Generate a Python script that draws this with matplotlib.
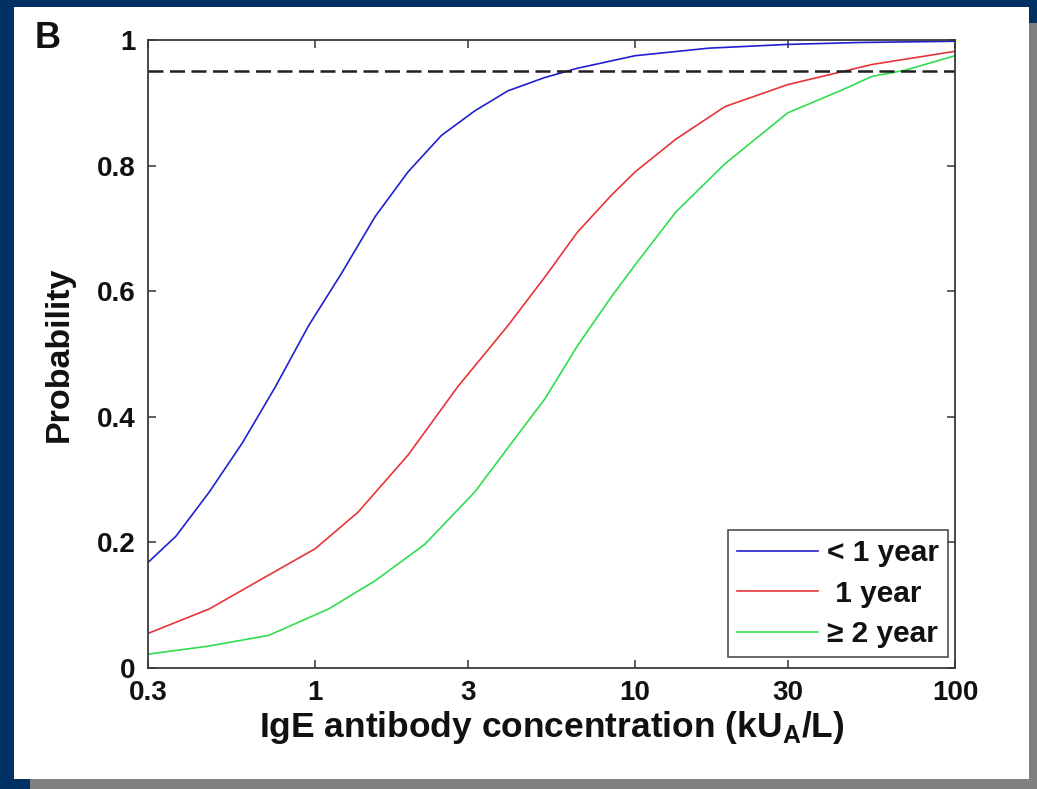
import numpy as np
import matplotlib
matplotlib.use("Agg")
import matplotlib.pyplot as plt
from matplotlib.patches import Rectangle

plt.rcParams['font.family'] = ['Liberation Sans', 'DejaVu Sans']
plt.rcParams['font.weight'] = 'bold'
plt.rcParams['mathtext.fontset'] = 'custom'
plt.rcParams['mathtext.rm'] = 'Liberation Sans:bold'
plt.rcParams['mathtext.bf'] = 'Liberation Sans:bold'

# ---- data ----
blue_x = [0.3, 0.367, 0.466, 0.591, 0.751, 0.953, 1.21, 1.54, 1.95, 2.48, 3.15, 4.0, 5.2, 6.6, 10, 17, 30, 50, 100]
blue_p = [0.168, 0.21, 0.28, 0.358, 0.448, 0.545, 0.629, 0.719, 0.79, 0.848, 0.887, 0.919, 0.94, 0.955, 0.975, 0.987, 0.993, 0.996, 0.998]

red_x = [0.3, 0.466, 0.666, 1.0, 1.36, 1.95, 2.79, 4.0, 5.23, 6.6, 8.4, 10, 13.4, 19.1, 30, 40.7, 55, 100]
red_p = [0.055, 0.094, 0.139, 0.19, 0.248, 0.339, 0.448, 0.545, 0.623, 0.694, 0.752, 0.79, 0.842, 0.894, 0.929, 0.945, 0.961, 0.982]

green_x = [0.3, 0.466, 0.716, 1.1, 1.54, 2.2, 3.15, 4.29, 5.23, 6.6, 8.4, 10, 13.4, 19.1, 30, 43.7, 55, 70, 100]
green_p = [0.022, 0.035, 0.052, 0.094, 0.139, 0.197, 0.28, 0.371, 0.429, 0.513, 0.59, 0.642, 0.726, 0.803, 0.884, 0.919, 0.942, 0.952, 0.975]

series_labels = ['< 1 year', ' 1 year', '\u2265 2 year']
threshold = 0.95
x_ticks = [0.3, 1, 3, 10, 30, 100]
x_ticklabels = ['0.3', '1', '3', '10', '30', '100']
y_ticks = [0, 0.2, 0.4, 0.6, 0.8, 1]
y_ticklabels = ['0', '0.2', '0.4', '0.6', '0.8', '1']

W, H = 1037, 789
fig = plt.figure(figsize=(W / 100, H / 100), dpi=100)
fig.patch.set_facecolor('#013062')

def px_rect(x0, y0, x1, y1, color):
    fig.patches.append(Rectangle((x0 / W, 1 - y1 / H), (x1 - x0) / W, (y1 - y0) / H,
                                 transform=fig.transFigure, facecolor=color,
                                 edgecolor='none', zorder=-10))

px_rect(30, 23, 1037, 789, '#808080')
px_rect(14, 7, 1029, 779, '#ffffff')

ax = fig.add_axes([148 / W, 1 - 668 / H, (955 - 148) / W, (668 - 40) / H])
ax.set_zorder(5)
ax.set_facecolor('white')

ax.plot(blue_x, blue_p, color='#2020d0', lw=1.2, label=series_labels[0])
ax.plot(red_x, red_p, color='#e63538', lw=1.2, label=series_labels[1])
ax.plot(green_x, green_p, color='#30dd50', lw=1.2, label=series_labels[2])
ax.axhline(threshold, color='#202020', lw=1.8, dashes=(6, 2.6))

ax.set_xscale('log')
ax.set_xlim(0.3, 100)
ax.set_ylim(0, 1)
ax.set_xticks(x_ticks)
ax.set_xticklabels(x_ticklabels)
ax.xaxis.set_minor_locator(matplotlib.ticker.NullLocator())
ax.set_yticks(y_ticks)
ax.set_yticklabels(y_ticklabels)
ax.tick_params(direction='in', length=6, width=1.1, color='#333333',
               top=True, right=True, labelsize=20, labelcolor='#111111')
ax.tick_params(axis='x', pad=9)
ax.tick_params(axis='y', pad=9)
for s in ax.spines.values():
    s.set_color('#3a3a3a')
    s.set_linewidth(1.3)

ax.set_xlabel(r'IgE antibody concentration (kU$_\mathbf{A}$/L)', fontsize=25.5,
              fontweight='bold', color='#111111', labelpad=2)
ax.set_ylabel('Probability', fontsize=24.5, fontweight='bold', color='#111111', labelpad=16)

leg = ax.legend(loc='lower right', bbox_to_anchor=(0.991, 0.0175), borderaxespad=0,
                fontsize=21.5, frameon=True, fancybox=False, handlelength=2.7,
                handletextpad=0.3, labelspacing=0.42, borderpad=0.3)
leg.get_frame().set_edgecolor('#222222')
leg.get_frame().set_linewidth(1.2)
for t in leg.get_texts():
    t.set_fontweight('bold')
    t.set_color('#111111')

fig.text(35 / W, 1 - 38 / H, 'B', fontsize=26, fontweight='bold', color='#111111',
         va='center', ha='left')

fig.savefig('out.png', dpi=100, facecolor=fig.get_facecolor())
